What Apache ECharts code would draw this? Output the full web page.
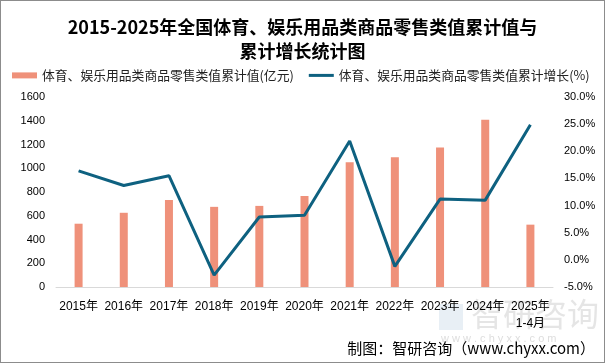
<!DOCTYPE html>
<html><head><meta charset="utf-8">
<script src="https://cdn.jsdelivr.net/npm/echarts@6/dist/echarts.min.js"></script>
<style>html,body{margin:0;padding:0;background:#fff}#c{width:605px;height:363px;box-sizing:border-box;border:1px solid #8c8c8c}</style>
</head><body><div id="c"></div>
<script>
const categories = ['2015年','2016年','2017年','2018年','2019年','2020年','2021年','2022年','2023年','2024年','2025年\n1-4月'];
const retailValue = [533, 625, 733, 675, 683, 767, 1050, 1092, 1175, 1408, 525];
const growthRate = [16.4, 13.7, 15.5, -2.8, 7.9, 8.2, 21.9, -1.2, 11.2, 11.0, 24.9];
const leftTicks = {min: 0, max: 1600, interval: 200};
const rightTicks = {min: -5, max: 30, interval: 5};
const barName = '体育、娱乐用品类商品零售类值累计值(亿元)';
const lineName = '体育、娱乐用品类商品零售类值累计增长(%)';
const titleText = '2015-2025年全国体育、娱乐用品类商品零售类值累计值与\n累计增长统计图';
const FONT = '"Liberation Sans","Noto Sans CJK SC",sans-serif';

const chart = echarts.init(document.getElementById('c'), null, {renderer: 'canvas'});
chart.setOption({
  animation: false,
  textStyle: {fontFamily: FONT},
  title: {
    text: titleText, left: 'center', top: 9,
    textStyle: {fontSize: 18, fontWeight: 'bold', color: '#000', lineHeight: 24, fontFamily: '"Noto Sans CJK SC",sans-serif'}
  },
  legend: {
    left: 6, top: 63, width: 595, itemGap: 15, itemWidth: 25, itemHeight: 6,
    textStyle: {fontSize: 12.8, color: '#222', fontFamily: '"Noto Sans CJK SC",sans-serif'},
    data: [
      {name: barName, icon: 'rect'},
      {name: lineName, icon: 'path://M0,0H25V3H0Z'}
    ]
  },
  grid: {left: 55, right: 51, top: 96, bottom: 75, containLabel: false},
  xAxis: {
    type: 'category', data: categories,
    axisLine: {lineStyle: {color: '#d9d9d9', width: 1}},
    axisTick: {show: false},
    axisLabel: {fontSize: 12, color: '#000', interval: 0, margin: 11, lineHeight: 17, fontFamily: FONT}
  },
  yAxis: [
    {type: 'value', min: leftTicks.min, max: leftTicks.max, interval: leftTicks.interval,
     splitLine: {show: false}, axisLine: {show: false}, axisTick: {show: false},
     axisLabel: {fontSize: 11, color: '#000', margin: 11, fontFamily: FONT, formatter: v => String(v)}},
    {type: 'value', min: rightTicks.min, max: rightTicks.max, interval: rightTicks.interval,
     splitLine: {show: false}, axisLine: {show: false}, axisTick: {show: false},
     axisLabel: {fontSize: 11, color: '#000', margin: 11, fontFamily: FONT,
       formatter: v => v.toFixed(1) + '%'}}
  ],
  series: [
    {name: barName, type: 'bar', data: retailValue, barWidth: 8, yAxisIndex: 0,
     itemStyle: {color: '#EF917A'}},
    {name: lineName, type: 'line', data: growthRate, yAxisIndex: 1, symbol: 'none',
     lineStyle: {color: '#0E6180', width: 3}, itemStyle: {color: '#0E6180'}}
  ],
  graphic: [
    {type: 'text', left: 470, top: 297, style: {text: '智研咨询', fontSize: 32, fill: 'rgba(170,170,170,0.3)', fontFamily: '"Noto Sans CJK SC",sans-serif'}},
    {type: 'text', left: 440, top: 332, style: {text: 'w w w . c h y x x . c o m', fontSize: 11, fill: 'rgba(170,170,170,0.4)'}},
    {type: 'rect', shape: {x: 438, y: 303, width: 24, height: 26}, style: {fill: 'rgba(150,180,210,0.22)'}},
    {type: 'text', right: 9, top: 340, style: {text: '制图：智研咨询（www.chyxx.com）', fontSize: 15, fill: '#000', fontFamily: '"Noto Sans CJK SC",sans-serif'}}
  ]
});
</script></body></html>
